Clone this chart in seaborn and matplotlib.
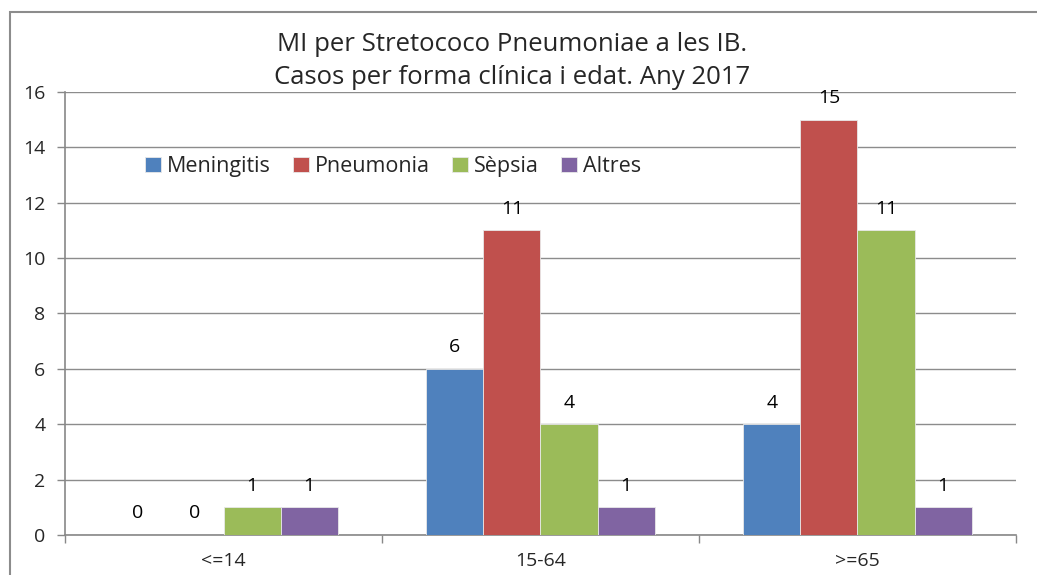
import matplotlib
matplotlib.use("Agg")
import matplotlib.pyplot as plt
from matplotlib.patches import Rectangle
import pandas as pd
import seaborn as sns

# dades
edats = ["<=14", "15-64", ">=65"]
formes = ["Meningitis", "Pneumonia", "Sèpsia", "Altres"]
meningitis = [0, 6, 4]
pneumonia = [0, 11, 15]
sepsia = [1, 4, 11]
altres = [1, 1, 1]
colors = ["#4F81BD", "#C0504D", "#9BBB59", "#8064A2"]

df = pd.DataFrame({
    "edat": edats * 4,
    "forma": [f for f in formes for _ in edats],
    "casos": meningitis + pneumonia + sepsia + altres,
})

sns.set_theme(style="white")
plt.rcParams["font.family"] = ["Open Sans", "DejaVu Sans"]

fig = plt.figure(figsize=(10.37, 5.75), dpi=100)
ax = fig.add_axes([0.0627, 0.0696, 0.917, 0.7704])

sns.barplot(data=df, x="edat", y="casos", hue="forma", order=edats,
            hue_order=formes, palette=colors, saturation=1, width=0.72, gap=0,
            edgecolor="#e8e8e8", linewidth=0.6, ax=ax, zorder=3)

# etiquetes de valor
for cont in ax.containers:
    ax.bar_label(cont, padding=9, fontsize=14, color="black")

ax.set_ylim(0, 16)
ax.set_yticks(range(0, 17, 2))
ax.set_xlim(-0.5, 2.5)
ax.set_xticks([-0.5, 0.5, 1.5, 2.5])
ax.set_xticklabels([])
ax.set_xticks([0, 1, 2], minor=True)
ax.set_xticklabels(edats, minor=True, fontsize=14)
ax.tick_params(axis="x", which="major", length=6, width=1, color="#888888",
               direction="out", bottom=True)
ax.tick_params(axis="x", which="minor", length=0, pad=12)
ax.tick_params(axis="y", length=6, width=1, color="#888888", direction="out",
               left=True, labelsize=14, pad=8)
ax.set_xlabel("")
ax.set_ylabel("")

ax.yaxis.grid(True, color="#8c8c8c", linewidth=1)
ax.set_axisbelow(True)
for s in ["top", "right"]:
    ax.spines[s].set_visible(False)
for s in ["left", "bottom"]:
    ax.spines[s].set_color("#888888")
    ax.spines[s].set_linewidth(1.2)

ax.legend(loc="upper left", bbox_to_anchor=(0.075, 0.875), ncol=4,
          frameon=False, fontsize=15.5, handlelength=0.75, handleheight=0.75,
          handletextpad=0.25, columnspacing=1.05, borderaxespad=0)

fig.text(0.494, 0.894, "MI per Stretococo Pneumoniae a les IB.\nCasos per forma clínica i edat. Any 2017",
         ha="center", va="center", fontsize=18.5, linespacing=1.4)

# marc del gràfic
fig.patches.append(Rectangle((10 / 1037, -0.1), 1.2, 1 - 12 / 575 + 0.1,
                             transform=fig.transFigure, fill=False,
                             edgecolor="#8c8c8c", linewidth=1.5))

fig.savefig("out.png", dpi=100, facecolor="white")
